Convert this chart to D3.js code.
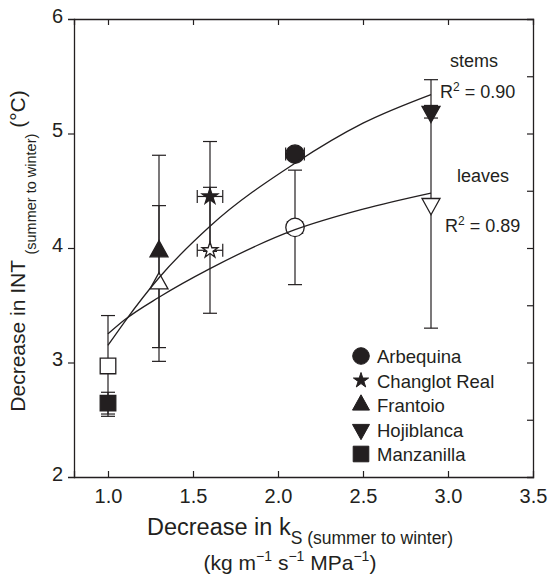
<!DOCTYPE html>
<html>
<head>
<meta charset="utf-8">
<script src="https://cdn.jsdelivr.net/npm/d3@7"></script>
<style>
  body { margin: 0; background: #fff; }
  text { font-family: "Liberation Sans", Arial, sans-serif; fill: #231f20; }
</style>
</head>
<body>
<div id="chart"></div>
<script>
// cultivars and their markers
var cultivars = ["Arbequina", "Changlot Real", "Frantoio", "Hojiblanca", "Manzanilla"];
var shapes = ["circle", "star", "triangle", "triangleDown", "square"];

// decrease in ks (x) with horizontal error
var ksDecrease = [2.1, 1.6, 1.3, 2.9, 1.0];
var stemsKsErr = [0.055, 0.075, 0, 0, 0];
var leavesKsErr = [0.045, 0.075, 0, 0, 0];

// decrease in INT (y) with vertical error
var stemsInt = [4.82, 4.45, 3.97, 5.19, 2.645];
var stemsIntErr = [0.04, 0.48, 0.84, 0.055, 0.095];
var leavesInt = [4.18, 3.98, 3.69, 4.385, 2.97];
var leavesIntErr = [0.5, 0.55, 0.68, 1.085, 0.44];

// fitted curves
var fitX = [1.0, 1.1, 1.3, 1.6, 2.1, 2.5, 2.9];
var stemsFit = [3.15, 3.36, 3.74, 4.19, 4.74, 5.09, 5.34];
var leavesFit = [3.25, 3.375, 3.57, 3.82, 4.16, 4.34, 4.48];

var fitNames = ["stems", "leaves"];
var fitR2 = ["0.90", "0.89"];

var xTicks = [1.0, 1.5, 2.0, 2.5, 3.0, 3.5];
var yTicks = [2, 3, 4, 5, 6];

var margin = {top: 19, right: 15, bottom: 104, left: 74},
    width = 548 - margin.left - margin.right,
    height = 581 - margin.top - margin.bottom;

var ink = "#231f20";

var svg = d3.select("#chart")
  .append("svg")
    .attr("width", 548)
    .attr("height", 581)
  .append("g")
    .attr("transform", "translate(" + margin.left + "," + margin.top + ")");

var x = d3.scaleLinear().domain([0.8, 3.5]).range([0, width]);
var y = d3.scaleLinear().domain([2, 6]).range([height, 0]);

// axes: ticks point inward on bottom, top and right; outward on the left
var gx = svg.append("g")
  .attr("transform", "translate(0," + height + ")")
  .call(d3.axisBottom(x).tickValues(xTicks).tickSize(-6).tickPadding(12).tickFormat(d3.format(".1f")));
gx.selectAll(".tick").filter(function(d) { return d > 3.2; }).select("line").remove();

svg.append("g")
  .call(d3.axisTop(x).tickValues([1.0, 1.5, 2.0, 2.5, 3.0]).tickSize(-6).tickFormat(""));

var gy = svg.append("g")
  .call(d3.axisLeft(y).tickValues(yTicks).tickSize(6).tickPadding(5).tickFormat(d3.format("d")));
gy.selectAll(".tick").filter(function(d) { return d == 2 || d == 6; }).select("line").remove();

svg.append("g")
  .attr("transform", "translate(" + width + ",0)")
  .call(d3.axisRight(y).tickValues([2.5, 3, 3.5, 4, 4.5, 5, 5.5]).tickSize(-6).tickFormat(""));

svg.selectAll(".domain").attr("stroke", ink).attr("stroke-width", 1.3);
svg.selectAll(".tick line").attr("stroke", ink).attr("stroke-width", 1.2);
svg.selectAll(".tick text").attr("font-size", "20px").attr("font-family", null).attr("fill", ink);
gy.selectAll(".tick text").attr("dy", "0.16em");
gx.selectAll(".tick text").attr("dy", "0.71em");

// marker paths
function marker(shape, s) {
  var p = d3.path();
  if (shape == "circle") {
    p.arc(0, 0, s, 0, 2 * Math.PI);
  } else if (shape == "square") {
    p.rect(-s, -s, 2 * s, 2 * s);
  } else if (shape == "triangle" || shape == "triangleDown") {
    var hw = s, h = s * 1.8, k = shape == "triangle" ? 1 : -1;
    p.moveTo(0, -k * 2 * h / 3);
    p.lineTo(hw, k * h / 3);
    p.lineTo(-hw, k * h / 3);
    p.closePath();
  } else if (shape == "star") {
    return d3.symbol(d3.symbolStar, s * s / 0.8908)();
  }
  return p.toString();
}
var plotSize = {circle: 9.2, square: 7.8, triangle: 9, triangleDown: 9, star: 8.3};
var legendSize = {circle: 8.3, square: 7.8, triangle: 8.5, triangleDown: 8.5, star: 8};

function rows(intVals, intErr, ksErr, filled) {
  return cultivars.map(function(c, i) {
    return {name: c, shape: shapes[i], x: ksDecrease[i], xe: ksErr[i], y: intVals[i], ye: intErr[i], filled: filled};
  });
}
var points = rows(leavesInt, leavesIntErr, leavesKsErr, false)
  .concat(rows(stemsInt, stemsIntErr, stemsKsErr, true));

// error bars
var bars = svg.append("g").attr("stroke", ink).attr("stroke-width", 1.2).attr("fill", "none");
points.forEach(function(d) {
  var cx = x(d.x), cap = 7;
  if (d.ye > 0) {
    bars.append("line").attr("x1", cx).attr("x2", cx).attr("y1", y(d.y - d.ye)).attr("y2", y(d.y + d.ye));
    [d.y - d.ye, d.y + d.ye].forEach(function(v) {
      bars.append("line").attr("x1", cx - cap).attr("x2", cx + cap).attr("y1", y(v)).attr("y2", y(v));
    });
  }
  if (d.xe > 0) {
    var cy = y(d.y);
    bars.append("line").attr("x1", x(d.x - d.xe)).attr("x2", x(d.x + d.xe)).attr("y1", cy).attr("y2", cy);
    [d.x - d.xe, d.x + d.xe].forEach(function(v) {
      bars.append("line").attr("x1", x(v)).attr("x2", x(v)).attr("y1", cy - 6.5).attr("y2", cy + 6.5);
    });
  }
});

// markers
svg.append("g").selectAll("path")
  .data(points)
  .enter().append("path")
    .attr("d", function(d) { return marker(d.shape, plotSize[d.shape]); })
    .attr("transform", function(d) { return "translate(" + x(d.x) + "," + y(d.y) + ")"; })
    .attr("fill", function(d) { return d.filled ? ink : "#fff"; })
    .attr("stroke", ink)
    .attr("stroke-width", 1.3);

// fitted curves
var fitLine = d3.line()
  .x(function(d) { return x(d[0]); })
  .y(function(d) { return y(d[1]); })
  .curve(d3.curveMonotoneX);
[stemsFit, leavesFit].forEach(function(f) {
  svg.append("path")
    .datum(fitX.map(function(v, i) { return [v, f[i]]; }))
    .attr("fill", "none")
    .attr("stroke", ink)
    .attr("stroke-width", 1.3)
    .attr("d", fitLine);
});

// curve labels (page coordinates shifted into the group)
var labelPos = [{nx: 450, ny: 66.5, rx: 440, ry: 97.5}, {nx: 457, ny: 181.5, rx: 445, ry: 231.5}];
fitNames.forEach(function(n, i) {
  var lp = labelPos[i];
  svg.append("text")
    .attr("x", lp.nx - margin.left).attr("y", lp.ny - margin.top)
    .attr("font-size", "18px")
    .text(n);
  var t = svg.append("text")
    .attr("x", lp.rx - margin.left).attr("y", lp.ry - margin.top)
    .attr("font-size", "18px");
  t.append("tspan").text("R");
  t.append("tspan").attr("font-size", "12px").attr("dy", -7).text("2");
  t.append("tspan").attr("dy", 7).text(" = " + fitR2[i]);
});

// legend
var legend = svg.append("g")
  .attr("transform", "translate(" + (361 - margin.left) + "," + (356 - margin.top) + ")");
cultivars.forEach(function(c, i) {
  var row = legend.append("g").attr("transform", "translate(0," + (i * 24.5) + ")");
  row.append("path")
    .attr("d", marker(shapes[i], legendSize[shapes[i]]))
    .attr("fill", ink)
    .attr("stroke", ink)
    .attr("stroke-width", 1);
  row.append("text")
    .attr("x", 16)
    .attr("y", 7)
    .attr("font-size", "18.5px")
    .text(c);
});

// x axis title
var xt = svg.append("text")
  .attr("text-anchor", "middle")
  .attr("x", 300 - margin.left)
  .attr("y", 535 - margin.top)
  .attr("font-size", "23.5px");
xt.append("tspan").text("Decrease in k");
xt.append("tspan").attr("font-size", "17.5px").attr("dy", 9).text("S (summer to winter)");

var xt2 = svg.append("text")
  .attr("text-anchor", "middle")
  .attr("x", 290 - margin.left)
  .attr("y", 570 - margin.top)
  .attr("font-size", "21px");
xt2.append("tspan").text("(kg m");
xt2.append("tspan").attr("font-size", "14px").attr("dy", -9).text("\u22121");
xt2.append("tspan").attr("dy", 9).text(" s");
xt2.append("tspan").attr("font-size", "14px").attr("dy", -9).text("\u22121");
xt2.append("tspan").attr("dy", 9).text(" MPa");
xt2.append("tspan").attr("font-size", "14px").attr("dy", -9).text("\u22121");
xt2.append("tspan").attr("dy", 9).text(")");

// y axis title
var yt = svg.append("text")
  .attr("text-anchor", "middle")
  .attr("transform", "translate(" + (25 - margin.left) + "," + (251 - margin.top) + ") rotate(-90)")
  .attr("font-size", "21px");
yt.append("tspan").text("Decrease in INT ");
yt.append("tspan").attr("font-size", "14.5px").attr("dy", 11).text("(summer to winter)");
yt.append("tspan").attr("dy", -11).text(" (\u00b0C)");
</script>
</body>
</html>
